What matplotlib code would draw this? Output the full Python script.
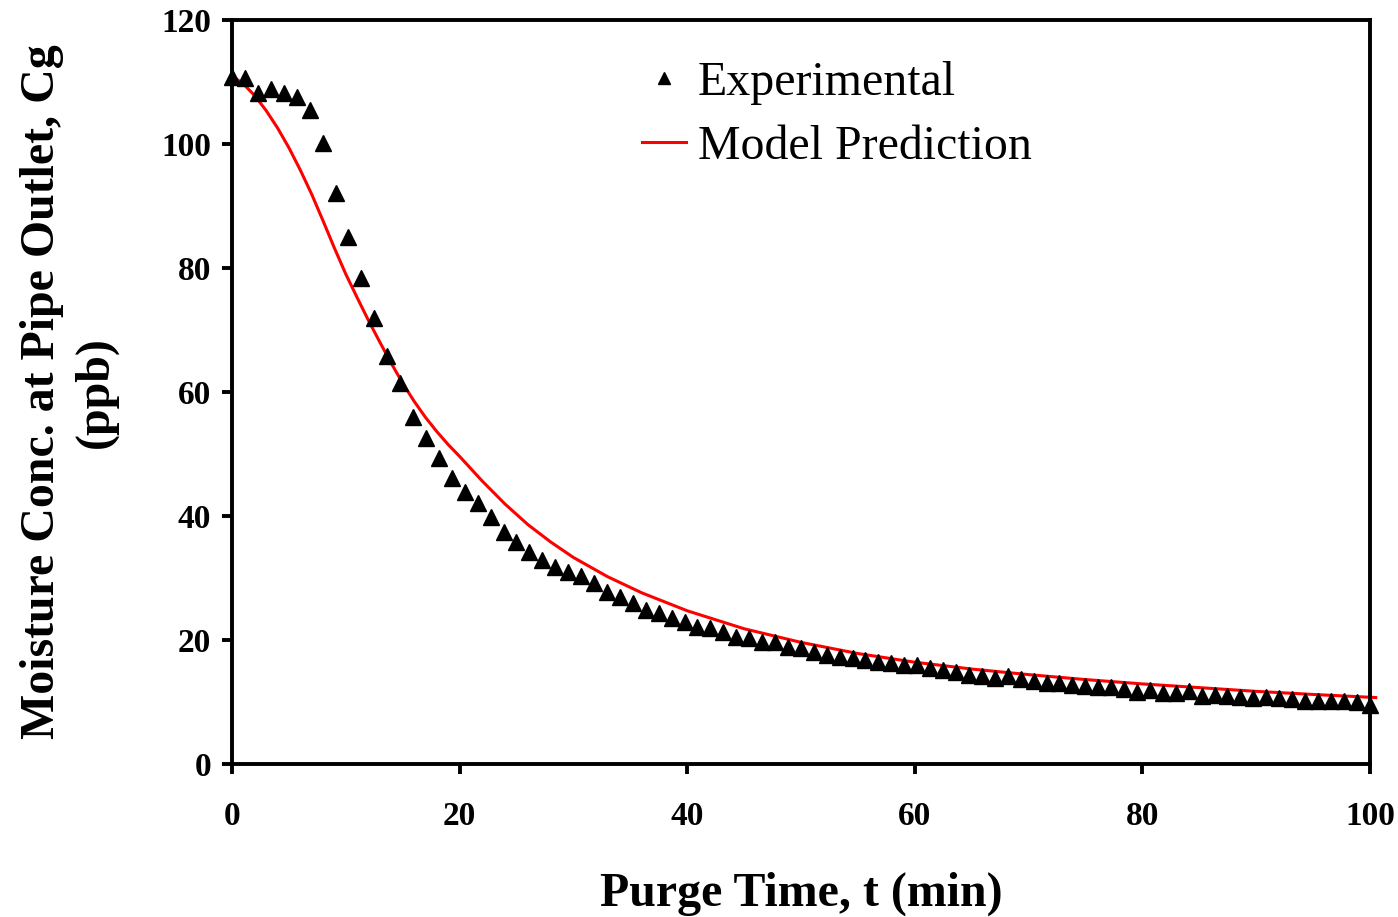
import matplotlib.pyplot as plt

# Experimental purge data (time in min, moisture in ppb)
exp_time = [
    0, 1.14, 2.27, 3.41, 4.54, 5.68, 6.82, 7.95, 9.09, 10.22,
    11.36, 12.5, 13.63, 14.77, 15.9, 17.04, 18.18, 19.31, 20.45, 21.58,
    22.72, 23.86, 24.99, 26.13, 27.26, 28.4, 29.54, 30.67, 31.81, 32.94,
    34.08, 35.22, 36.35, 37.49, 38.62, 39.76, 40.9, 42.03, 43.17, 44.3,
    45.44, 46.58, 47.71, 48.85, 49.98, 51.12, 52.26, 53.39, 54.53, 55.66,
    56.8, 57.94, 59.07, 60.21, 61.34, 62.48, 63.62, 64.75, 65.89, 67.02,
    68.16, 69.3, 70.43, 71.57, 72.7, 73.84, 74.98, 76.11, 77.25, 78.38,
    79.52, 80.66, 81.79, 82.93, 84.06, 85.2, 86.34, 87.47, 88.61, 89.74,
    90.88, 92.02, 93.15, 94.29, 95.42, 96.56, 97.7, 98.83, 99.97,
]
exp_conc = [
    110.8, 110.6, 108.2, 108.9, 108.2, 107.6, 105.5, 100.2, 92.1, 85.0,
    78.4, 71.9, 65.8, 61.5, 56.0, 52.6, 49.4, 46.1, 43.9, 42.1,
    39.8, 37.4, 35.8, 34.2, 32.9, 31.8, 31.0, 30.3, 29.2, 27.7,
    26.9, 26.0, 24.8, 24.4, 23.5, 22.9, 22.1, 21.9, 21.3, 20.5,
    20.3, 19.7, 19.7, 18.9, 18.7, 18.1, 17.6, 17.3, 17.1, 16.8,
    16.5, 16.3, 16.0, 16.0, 15.5, 15.2, 14.8, 14.4, 14.1, 13.9,
    14.1, 13.7, 13.4, 13.1, 13.0, 12.7, 12.6, 12.4, 12.4, 12.1,
    11.6, 11.9, 11.5, 11.5, 11.8, 11.0, 11.1, 11.0, 10.8, 10.6,
    10.8, 10.6, 10.5, 10.2, 10.2, 10.2, 10.2, 10.0, 9.5,
]

# Model prediction curve
model_time = [
    0, 1, 2, 3, 4, 5, 6, 7, 8, 9, 10, 11, 12, 13, 14, 15, 16, 17, 18,
    19, 20, 22, 24, 26, 28, 30, 33, 36, 40, 45, 50, 55, 60, 65, 70, 75,
    80, 85, 90, 95, 100.5,
]
model_conc = [
    111, 109.7, 107.8, 105.4, 102.6, 99.4, 95.8, 91.9, 87.6, 83.2, 79.0,
    75.2, 71.5, 68.0, 64.6, 61.4, 58.5, 55.9, 53.6,
    51.5, 49.6, 45.6, 41.9, 38.6, 35.8, 33.3, 30.2, 27.6, 24.7, 21.8,
    19.6, 17.8, 16.4, 15.3, 14.4, 13.6, 12.9, 12.3, 11.7, 11.2, 10.7,
]

x_ticks = [0, 20, 40, 60, 80, 100]
y_ticks = [0, 20, 40, 60, 80, 100, 120]

plt.rcParams["font.family"] = ["Liberation Serif", "DejaVu Serif"]

fig = plt.figure(figsize=(13.98, 9.17), dpi=100)
ax = fig.add_axes([0.166, 0.167, 0.814, 0.811])

ax.plot(exp_time, exp_conc, linestyle="none", marker="^", markersize=11,
        color="black", label="Experimental", clip_on=False, zorder=3)
ax.plot(model_time, model_conc, color="#ff0000", linewidth=2.2,
        label="Model Prediction", clip_on=False, zorder=2)

ax.set_xlim(0, 100)
ax.set_ylim(0, 120)
ax.set_xticks(x_ticks)
ax.set_yticks(y_ticks)

for side in ["top", "right", "bottom", "left"]:
    ax.spines[side].set_linewidth(2.8)

ax.tick_params(axis="both", direction="out", length=7, width=2.8,
               labelsize=24, pad=8)
ax.tick_params(axis="x", pad=20)
for lab in ax.get_xticklabels() + ax.get_yticklabels():
    lab.set_fontweight("bold")

ax.set_xlabel("Purge Time, t (min)", fontsize=34.5, fontweight="bold",
              labelpad=28)
ax.set_ylabel("Moisture Conc. at Pipe Outlet, Cg\n(ppb)", fontsize=34.5,
              fontweight="bold", labelpad=31, linespacing=1.3)

ax.legend(loc="upper left", bbox_to_anchor=(0.36, 0.945), frameon=False,
          fontsize=34.5, handlelength=0.92, handletextpad=0.25,
          labelspacing=0.42, borderpad=0, borderaxespad=0, markerscale=0.85)

fig.savefig("out.png", dpi=100)
